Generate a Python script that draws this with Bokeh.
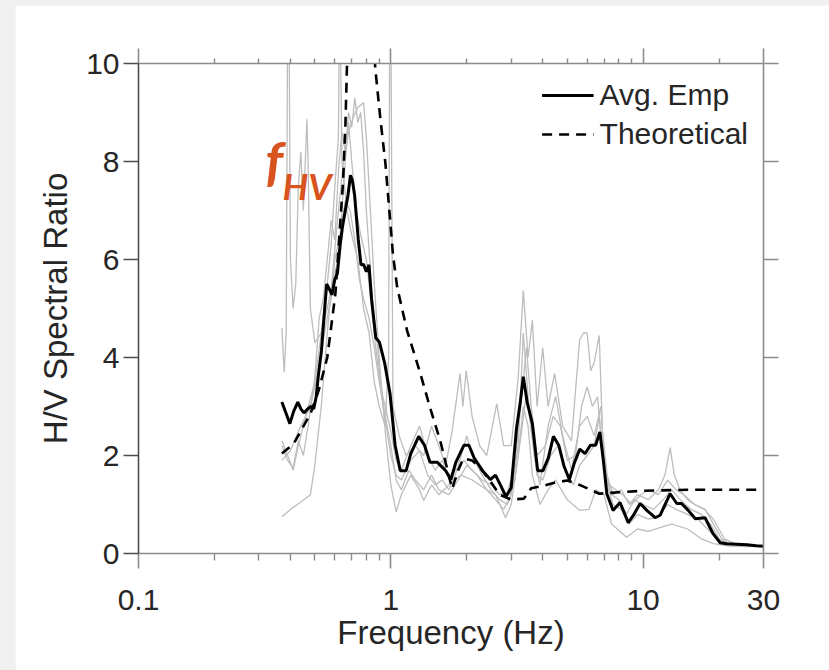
from bokeh.plotting import figure
from bokeh.models import (LogAxis, LinearAxis, FixedTicker, Range1d, Legend,
                          LegendItem, Label)
from bokeh.embed import file_html
from bokeh.resources import INLINE

# ---------------- data ----------------
avg_freq = [0.370, 0.385, 0.398, 0.412, 0.428, 0.440, 0.453, 0.468, 0.482, 0.495,
            0.506, 0.518, 0.531, 0.545, 0.557, 0.570, 0.585, 0.600, 0.614, 0.630,
            0.644, 0.660, 0.676, 0.692, 0.705, 0.719, 0.743, 0.762, 0.780, 0.800,
            0.819, 0.839, 0.872, 0.902, 0.946, 0.993, 1.04, 1.09, 1.15, 1.20,
            1.29, 1.36, 1.43, 1.53, 1.65, 1.73, 1.81, 1.95, 2.04, 2.14,
            2.31, 2.48, 2.60, 2.73, 2.86, 3.00, 3.15, 3.26, 3.35, 3.47,
            3.64, 3.82, 4.01, 4.21, 4.41, 4.63, 4.86, 5.10, 5.35, 5.61,
            5.89, 6.18, 6.48, 6.74, 6.97, 7.18, 7.6, 8.1, 8.73, 9.2,
            9.73, 10.35, 11.16, 11.67, 12.8, 13.6, 14.2, 15.1, 16.1, 17.6,
            18.9, 20.2, 21.4, 23.5, 25.8, 28.0, 30.0]
avg_hv = [3.09, 2.85, 2.65, 2.90, 3.09, 2.95, 2.87, 2.95, 3.00, 2.95,
          3.20, 3.70, 4.14, 4.90, 5.50, 5.40, 5.28, 5.60, 5.71, 6.30,
          6.68, 7.00, 7.30, 7.72, 7.60, 7.30, 6.41, 5.89, 5.90, 5.75,
          5.89, 5.19, 4.40, 4.31, 3.88, 3.26, 2.21, 1.69, 1.69, 2.04,
          2.39, 2.21, 1.86, 1.86, 1.69, 1.51, 1.86, 2.21, 2.21, 1.95,
          1.69, 1.51, 1.60, 1.38, 1.16, 1.34, 2.56, 3.09, 3.61, 3.09,
          2.65, 1.69, 1.69, 1.95, 2.39, 2.21, 1.78, 1.51, 1.86, 2.13,
          2.04, 2.21, 2.21, 2.48, 1.86, 1.22, 0.88, 1.04, 0.63, 0.80,
          1.02, 0.88, 0.73, 0.78, 1.22, 1.02, 1.02, 0.88, 0.71, 0.73,
          0.41, 0.22, 0.20, 0.19, 0.18, 0.16, 0.15]

theo_freq = [0.37, 0.412, 0.48, 0.518, 0.56, 0.603, 0.647, 0.661, 0.67, 0.70,
             0.76, 0.83, 0.867, 0.908, 0.952, 1.02, 1.06, 1.16, 1.31, 1.43,
             1.57, 1.75, 1.85, 1.94, 2.1, 2.3, 2.5, 2.7, 3.0, 3.37,
             3.6, 4.0, 4.5, 5.0, 5.6, 6.2, 6.7, 8.0, 10.0, 15.0, 20.0, 30.0]
theo_hv = [2.04, 2.24, 2.85, 3.33, 4.0, 5.3, 7.6, 8.77, 9.92, 13.0,
           16.0, 13.0, 9.92, 8.9, 7.96, 6.1, 5.43, 4.55, 3.67, 2.98,
           2.3, 1.32, 1.7, 1.94, 1.9, 1.7, 1.45, 1.2, 1.1, 1.12,
           1.33, 1.38, 1.45, 1.49, 1.4, 1.3, 1.22, 1.25, 1.28, 1.3, 1.3, 1.3]

rec1_freq = [0.37, 0.40, 0.44, 0.48, 0.50, 0.53, 0.56, 0.59, 0.62, 0.65, 0.68, 0.71,
             0.74, 0.78, 0.80, 0.83, 0.86, 0.90, 0.95, 1.0, 1.05, 1.1, 1.2, 1.3,
             1.35, 1.45, 1.55, 1.7, 1.9, 2.1, 2.4, 2.6, 2.85, 3.0, 3.2, 3.35,
             3.5, 3.64, 3.9, 4.2, 4.5, 5.0, 5.6, 6.1, 6.5, 7.0, 7.5, 8.6,
             9.5, 10.5, 12.0, 13.0, 15.0, 17.0, 19.0, 22.0, 26.0, 30.0]
rec1_hv = [0.75, 0.9, 1.05, 1.2, 1.8, 3.0, 4.5, 5.8, 7.0, 8.0, 8.6, 8.9,
           9.1, 9.2, 8.5, 7.0, 5.5, 4.0, 2.5, 1.4, 0.85, 1.2, 1.6, 1.3,
           1.08, 1.4, 1.2, 1.4, 1.6, 1.5, 1.3, 1.2, 0.73, 1.0, 2.0, 3.0,
           2.6, 1.6, 1.0, 1.3, 1.5, 1.1, 0.88, 0.9, 1.3, 1.2, 0.6, 0.33,
           0.5, 0.45, 0.55, 0.6, 0.5, 0.3, 0.2, 0.15, 0.14, 0.15]

rec2_freq = [0.37, 0.378, 0.385, 0.39, 0.395, 0.40, 0.41, 0.42, 0.43, 0.44, 0.45, 0.46,
             0.465, 0.47, 0.48, 0.50, 0.53, 0.56, 0.58, 0.60, 0.62, 0.625, 0.63, 0.64,
             0.67, 0.70, 0.74, 0.78, 0.82, 0.86, 0.90, 0.95, 0.98, 0.99, 1.0, 1.02,
             1.08, 1.15, 1.25, 1.35, 1.45, 1.55, 1.65, 1.75, 1.88, 1.93, 1.99, 2.1,
             2.25, 2.4, 2.63, 2.8, 3.0, 3.2, 3.35, 3.5, 3.64, 3.8, 4.0, 4.2,
             4.46, 4.8, 5.2, 5.6, 5.8, 6.0, 6.2, 6.4, 6.7, 6.9, 7.2, 7.6,
             8.2, 8.8, 9.5, 10.5, 11.5, 12.2, 12.8, 13.3, 14.0, 15.0, 16.0, 17.6,
             19.0, 20.5, 22.0, 25.0, 30.0]
rec2_hv = [4.6, 3.7, 4.5, 11.0, 11.0, 6.0, 5.0, 5.5, 7.5, 8.2, 7.0, 8.2,
           8.86, 8.0, 5.0, 4.3, 4.5, 5.5, 6.3, 7.5, 8.5, 11.0, 11.0, 8.0,
           7.0, 6.5, 6.0, 5.0, 4.5, 3.5, 3.0, 2.6, 4.0, 11.0, 11.0, 3.0,
           2.4, 2.0, 2.2, 2.0, 2.6, 2.2, 1.8, 2.5, 3.67, 3.0, 3.73, 2.8,
           2.2, 2.0, 3.06, 2.2, 2.2, 3.6, 5.37, 4.0, 4.76, 3.0, 4.2, 3.0,
           3.67, 2.6, 2.3, 4.35, 4.5, 4.5, 3.73, 3.9, 4.45, 2.5, 1.6, 1.2,
           1.3, 1.0, 1.2, 1.1, 1.3, 1.6, 2.16, 1.6, 1.3, 1.1, 1.0, 0.9,
           0.6, 0.3, 0.2, 0.18, 0.15]

rec3_freq = [0.37, 0.39, 0.41, 0.43, 0.46, 0.50, 0.53, 0.56, 0.59, 0.62, 0.64, 0.66,
             0.68, 0.70, 0.73, 0.76, 0.80, 0.84, 0.88, 0.92, 0.96, 1.0, 1.05, 1.1,
             1.2, 1.3, 1.4, 1.5, 1.6, 1.7, 1.8, 1.9, 2.0, 2.1, 2.3, 2.5,
             2.7, 2.9, 3.1, 3.3, 3.45, 3.6, 3.8, 4.0, 4.3, 4.6, 5.0, 5.3,
             5.6, 6.0, 6.4, 6.7, 7.0, 7.5, 8.0, 8.6, 9.2, 10.0, 11.0, 12.0,
             13.0, 14.0, 15.5, 17.0, 18.5, 20.0, 22.0, 26.0, 30.0]
rec3_hv = [2.3, 2.0, 1.7, 2.2, 2.8, 3.5, 4.5, 5.0, 5.6, 6.0, 7.0, 8.0,
           8.8, 8.0, 7.0, 6.5, 6.0, 5.0, 4.0, 3.2, 2.6, 2.0, 1.6, 1.5,
           1.9, 2.1, 1.6, 1.4, 1.5, 1.3, 1.6, 2.0, 2.4, 2.0, 1.6, 1.3,
           1.1, 1.0, 1.5, 2.5, 3.3, 2.5, 1.6, 1.5, 2.0, 2.2, 1.6, 1.4,
           1.8, 2.0, 2.2, 2.8, 1.7, 1.2, 1.1, 0.8, 1.1, 1.0, 0.9, 1.1,
           1.3, 1.1, 0.9, 0.8, 0.6, 0.3, 0.2, 0.18, 0.15]

rec4_freq = [0.37, 0.40, 0.44, 0.48, 0.52, 0.55, 0.58, 0.60, 0.63, 0.66, 0.69, 0.72,
             0.75, 0.78, 0.82, 0.86, 0.90, 0.95, 1.0, 1.05, 1.1, 1.2, 1.3, 1.4,
             1.5, 1.6, 1.7, 1.8, 1.95, 2.1, 2.3, 2.5, 2.7, 2.9, 3.1, 3.3,
             3.45, 3.6, 3.8, 4.1, 4.4, 4.7, 5.0, 5.4, 5.7, 6.0, 6.3, 6.6,
             6.9, 7.3, 7.8, 8.3, 9.0, 9.8, 10.5, 11.5, 12.5, 13.5, 14.5, 16.0,
             17.5, 19.0, 21.0, 23.0, 27.0, 30.0]
rec4_hv = [1.9, 2.1, 2.6, 3.0, 3.8, 4.6, 5.2, 6.0, 6.5, 7.2, 7.0, 6.4,
           5.6, 5.2, 4.8, 4.2, 3.5, 3.0, 2.5, 1.9, 1.7, 2.2, 2.6, 2.0,
           1.7, 1.9, 1.5, 1.7, 1.9, 1.7, 1.5, 1.4, 1.2, 1.25, 1.8, 3.2,
           4.2, 3.0, 2.0, 2.2, 2.8, 2.6, 1.9, 2.0, 3.0, 3.4, 3.0, 3.2,
           2.0, 1.4, 1.3, 1.2, 1.0, 1.2, 1.3, 1.2, 1.5, 1.3, 1.2, 1.0,
           0.9, 0.7, 0.3, 0.2, 0.18, 0.15]

rec5_freq = [0.37, 0.39, 0.41, 0.43, 0.45, 0.47, 0.50, 0.52, 0.54, 0.56, 0.58, 0.60,
             0.62, 0.64, 0.66, 0.68, 0.70, 0.72, 0.74, 0.76, 0.78, 0.80, 0.82, 0.85,
             0.88, 0.91, 0.95, 1.0, 1.05, 1.1, 1.18, 1.25, 1.35, 1.45, 1.55, 1.7,
             1.85, 2.0, 2.2, 2.4, 2.6, 2.8, 3.0, 3.2, 3.35, 3.5, 3.7, 3.9,
             4.2, 4.5, 4.8, 5.2, 5.6, 6.0, 6.4, 6.8, 7.1, 7.6, 8.2, 8.8,
             9.5, 10.5, 11.5, 12.5, 13.5, 15.0, 16.5, 18.0, 20.0, 23.0, 27.0, 30.0]
rec5_hv = [2.2, 1.9, 1.75, 2.3, 2.0, 2.6, 3.6, 4.8, 5.2, 6.0, 6.8, 6.4,
           7.8, 8.6, 8.2, 9.0, 8.7, 9.3, 8.8, 9.0, 8.2, 7.0, 6.2, 5.0,
           4.4, 3.4, 2.8, 2.2, 1.5, 1.3, 1.7, 1.5, 1.3, 1.6, 1.3, 1.2,
           1.5, 1.8, 1.6, 1.3, 1.1, 0.9, 1.2, 2.2, 4.5, 3.2, 2.0, 1.4,
           2.6, 3.2, 2.4, 1.7, 2.6, 2.8, 2.4, 3.0, 1.5, 1.0, 0.9, 0.6,
           0.8, 0.7, 0.75, 1.0, 0.9, 0.8, 0.7, 0.5, 0.25, 0.18, 0.16, 0.15]

x_major = [0.1, 1, 10, 30]
x_major_labels = ["0.1", "1", "10", "30"]
x_minor = [0.2, 0.3, 0.4, 0.5, 0.6, 0.7, 0.8, 0.9, 2, 3, 4, 5, 6, 7, 8, 9, 20]
y_major = [0, 2, 4, 6, 8, 10]

# ---------------- styling ----------------
FONT = "Liberation Sans"
TXT = "#262626"
AX_DARK = "#4d4d4d"
AX_LIGHT = "#8c8c8c"

p = figure(width=814, height=665, x_axis_type="log",
           x_range=Range1d(0.1, 30), y_range=Range1d(0, 10),
           output_backend="svg", toolbar_location=None,
           min_border_left=123, min_border_top=58,
           min_border_right=66, min_border_bottom=117)
p.margin = (5, 0, 0, 15)
p.outline_line_color = None
p.grid.visible = False
p.background_fill_color = "white"
p.border_fill_color = "white"

xt = FixedTicker(ticks=x_major, minor_ticks=x_minor)
yt = FixedTicker(ticks=y_major, minor_ticks=[])

def style_axis(ax, color):
    ax.axis_line_color = color
    ax.axis_line_width = 1.6
    ax.major_tick_line_color = color
    ax.major_tick_line_width = 1.6
    ax.minor_tick_line_color = color
    ax.minor_tick_line_width = 1.4
    ax.major_tick_in = 0
    ax.major_tick_out = 15
    ax.minor_tick_in = 0
    ax.minor_tick_out = 7
    ax.major_label_text_font = FONT
    ax.major_label_text_color = TXT
    ax.major_label_text_font_size = "30px"
    ax.axis_label_text_font = FONT
    ax.axis_label_text_color = TXT
    ax.axis_label_text_font_size = "33px"
    ax.axis_label_text_font_style = "normal"

xb = p.xaxis[0]
xb.ticker = xt
xb.major_label_overrides = {v: s for v, s in zip(x_major, x_major_labels)}
style_axis(xb, AX_LIGHT)
xb.major_label_standoff = 21
xb.axis_label = "Frequency (Hz)"
xb.axis_label_standoff = 1

yl = p.yaxis[0]
yl.ticker = yt
style_axis(yl, AX_DARK)
yl.major_label_standoff = 4
yl.axis_label = "H/V Spectral Ratio"
yl.axis_label_standoff = 9

xtop = LogAxis(ticker=xt)
style_axis(xtop, AX_LIGHT)
xtop.major_label_text_font_size = "10px"
xtop.major_label_overrides = {v: "" for v in x_major}
xtop.minor_tick_out = 5
p.add_layout(xtop, "above")

yr = LinearAxis(ticker=yt)
style_axis(yr, AX_LIGHT)
yr.major_label_text_font_size = "10px"
yr.major_label_overrides = {v: "" for v in y_major}
p.add_layout(yr, "right")

# ---------------- lines ----------------
gray = "#bdbdbd"
for fr, hv in [(rec1_freq, rec1_hv), (rec2_freq, rec2_hv), (rec3_freq, rec3_hv),
               (rec4_freq, rec4_hv), (rec5_freq, rec5_hv)]:
    p.line(fr, hv, line_color=gray, line_width=1.3)

r_avg = p.line(avg_freq, avg_hv, line_color="black", line_width=3)
r_th = p.line(theo_freq, theo_hv, line_color="black", line_width=2.6,
              line_dash="10 7")

legend = Legend(items=[LegendItem(label="Avg. Emp", renderers=[r_avg]),
                       LegendItem(label="Theoretical", renderers=[r_th])],
                location="top_right")
legend.border_line_color = None
legend.background_fill_alpha = 0
legend.label_text_font = FONT
legend.label_text_font_size = "30px"
legend.label_text_color = TXT
legend.glyph_width = 52
legend.label_standoff = 6
legend.spacing = 5
legend.padding = 0
legend.margin = 15
p.add_layout(legend)

anno_color = "#d9531e"
p.add_layout(Label(x=0.318, y=7.35, text="f", text_font="Lato",
                   text_font_size="54px", text_font_style="bold italic",
                   text_color=anno_color))
p.add_layout(Label(x=0.372, y=7.05, text="HV", text_font="Lato",
                   text_font_size="36px", text_font_style="bold italic",
                   text_color=anno_color))

html = file_html(p, INLINE)
html = html.replace("</head>",
                    "<style>html, body { margin: 0; background: #f0f0f0 !important; }</style></head>", 1)
open("out.html", "w").write(html)
